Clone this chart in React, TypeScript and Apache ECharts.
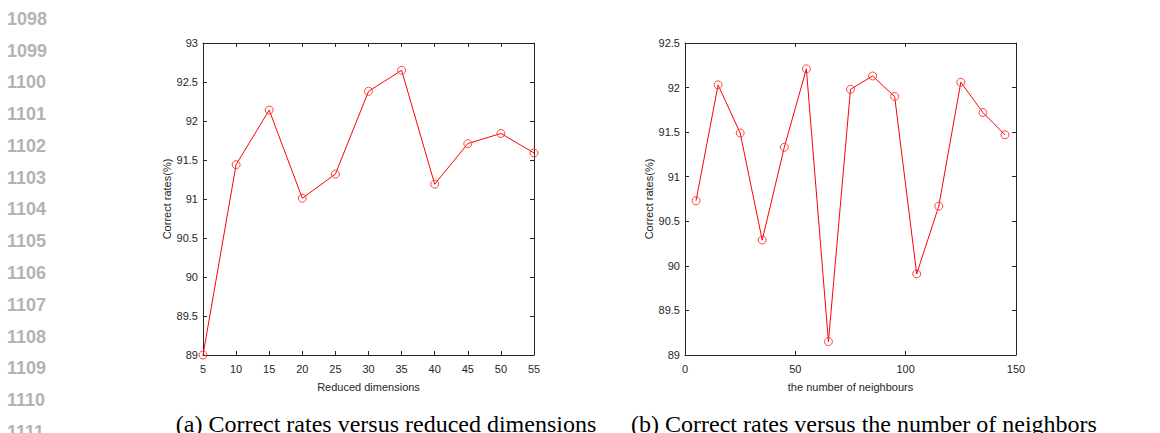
import React, { useEffect, useRef } from "react";
import * as echarts from "echarts";

// (a) correct rate against the number of reduced dimensions
const dimensions = [5, 10, 15, 20, 25, 30, 35, 40, 45, 50, 55];
const ratesByDimension = [89.0, 91.44, 92.14, 91.01, 91.32, 92.38, 92.65, 91.19, 91.71, 91.84, 91.59];

// (b) correct rate against the number of neighbours
const neighbours = [5, 15, 25, 35, 45, 55, 65, 75, 85, 95, 105, 115, 125, 135, 145];
const ratesByNeighbours = [90.73, 92.03, 91.49, 90.29, 91.33, 92.21, 89.15, 91.98, 92.13, 91.9, 89.91, 90.67, 92.06, 91.72, 91.47];

const lineNumbers = [1098, 1099, 1100, 1101, 1102, 1103, 1104, 1105, 1106, 1107, 1108, 1109, 1110, 1111];

const captionA = "(a) Correct rates versus reduced dimensions";
const captionB = "(b) Correct rates versus the number of neighbors";
const xNameA = "Reduced dimensions";
const xNameB = "the number of neighbours";
const yName = "Correct rates(%)";

const AXIS = "#262626";
const SANS = "'Liberation Sans', Arial, Helvetica, sans-serif";
const SERIF = "'Liberation Serif', 'Times New Roman', serif";

function mainX(gridIndex: number, min: number, max: number, interval: number, name: string) {
  return {
    type: "value",
    gridIndex,
    min,
    max,
    interval,
    position: "bottom",
    name,
    nameLocation: "middle",
    nameGap: 26,
    nameTextStyle: { color: AXIS, fontSize: 11, fontFamily: SANS },
    axisLine: { show: true, onZero: false, lineStyle: { color: AXIS, width: 1 } },
    axisTick: { show: true, inside: true, length: 4, lineStyle: { color: AXIS } },
    axisLabel: { color: AXIS, fontSize: 11, fontFamily: SANS, margin: 8 },
    splitLine: { show: false },
  };
}

function mirrorX(gridIndex: number, min: number, max: number, interval: number) {
  return {
    type: "value",
    gridIndex,
    min,
    max,
    interval,
    position: "top",
    axisLine: { show: true, onZero: false, lineStyle: { color: AXIS, width: 1 } },
    axisTick: { show: true, inside: true, length: 4, lineStyle: { color: AXIS } },
    axisLabel: { show: false },
    splitLine: { show: false },
  };
}

function mainY(gridIndex: number, min: number, max: number) {
  return {
    type: "value",
    gridIndex,
    min,
    max,
    interval: 0.5,
    position: "left",
    name: yName,
    nameLocation: "middle",
    nameGap: 29,
    nameTextStyle: { color: AXIS, fontSize: 11, fontFamily: SANS },
    axisLine: { show: true, onZero: false, lineStyle: { color: AXIS, width: 1 } },
    axisTick: { show: true, inside: true, length: 4, lineStyle: { color: AXIS } },
    axisLabel: { color: AXIS, fontSize: 11, fontFamily: SANS, margin: 5 },
    splitLine: { show: false },
  };
}

function mirrorY(gridIndex: number, min: number, max: number) {
  return {
    type: "value",
    gridIndex,
    min,
    max,
    interval: 0.5,
    position: "right",
    axisLine: { show: true, onZero: false, lineStyle: { color: AXIS, width: 1 } },
    axisTick: { show: true, inside: true, length: 4, lineStyle: { color: AXIS } },
    axisLabel: { show: false },
    splitLine: { show: false },
  };
}

function redLine(xAxisIndex: number, yAxisIndex: number, xs: number[], ys: number[]) {
  return {
    type: "line",
    xAxisIndex,
    yAxisIndex,
    data: xs.map((x, i) => [x, ys[i]]),
    symbol: "circle",
    symbolSize: 8,
    showSymbol: true,
    lineStyle: { color: "#ff0000", width: 1 },
    itemStyle: { color: "rgba(0,0,0,0)", borderColor: "#ff3030", borderWidth: 0.9 },
    emphasis: { disabled: true },
  };
}

export default function App() {
  const ref = useRef<HTMLDivElement>(null);

  useEffect(() => {
    if (!ref.current) return;
    const chart = echarts.init(ref.current, undefined, { renderer: "svg" });

    const gutter = lineNumbers.map((n, i) => ({
      type: "text",
      left: 7,
      top: 18.8 + i * 31.77 - 9,
      style: {
        text: String(n),
        fill: "#b3b3b3",
        font: `bold 18px ${SANS}`,
      },
    }));

    chart.setOption({
      animation: false,
      backgroundColor: "#ffffff",
      grid: [
        { left: 203, top: 43, width: 331, height: 312 },
        { left: 685, top: 43, width: 331, height: 312 },
      ],
      xAxis: [
        mainX(0, 5, 55, 5, xNameA),
        mirrorX(0, 5, 55, 5),
        mainX(1, 0, 150, 50, xNameB),
        mirrorX(1, 0, 150, 50),
      ],
      yAxis: [mainY(0, 89, 93), mirrorY(0, 89, 93), mainY(1, 89, 92.5), mirrorY(1, 89, 92.5)],
      series: [
        redLine(0, 0, dimensions, ratesByDimension),
        redLine(2, 2, neighbours, ratesByNeighbours),
      ],
      graphic: [
        ...gutter,
        {
          type: "text",
          x: 386,
          y: 412,
          style: {
            text: captionA,
            fill: "#000",
            font: `24px ${SERIF}`,
            textAlign: "center",
            textVerticalAlign: "top",
          },
        },
        {
          type: "text",
          x: 864,
          y: 412,
          style: {
            text: captionB,
            fill: "#000",
            font: `24px ${SERIF}`,
            textAlign: "center",
            textVerticalAlign: "top",
          },
        },
      ],
    });

    return () => chart.dispose();
  }, []);

  return (
    <div
      ref={ref}
      style={{ position: "fixed", left: 0, top: 0, width: 1160, height: 433, background: "#fff" }}
    />
  );
}
